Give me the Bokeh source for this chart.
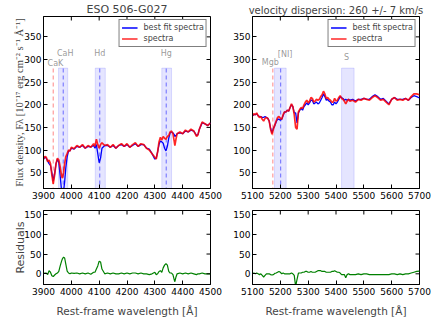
import numpy as np
from bokeh.plotting import figure
from bokeh.models import FixedTicker, Range1d
from bokeh.layouts import column, row
from bokeh.core.properties import value
from bokeh.embed import file_html
from bokeh.resources import INLINE

# ---------------- data: left window (3900-4500 A) ----------------
wave_l = [3900, 3905, 3910, 3915, 3920, 3925, 3930, 3935, 3940, 3945, 3950, 3955, 3960, 3965,
          3968, 3972, 3976, 3980, 3985, 3990, 3995, 4000, 4010, 4020, 4030, 4040, 4050, 4060,
          4070, 4080, 4085, 4090, 4095, 4100, 4105, 4110, 4120, 4130, 4140, 4150, 4160, 4170,
          4180, 4190, 4200, 4210, 4220, 4230, 4240, 4250, 4260, 4270, 4280, 4290, 4300, 4305,
          4310, 4315, 4320, 4325, 4330, 4335, 4340, 4345, 4350, 4355, 4360, 4365, 4370, 4372,
          4376, 4380, 4390, 4400, 4410, 4420, 4430, 4440, 4450, 4455, 4460, 4470, 4480, 4490, 4500]
spec_l = [80, 86, 84, 74, 78, 70, 45, 25, 45, 70, 82, 78, 62, 42,
          38, 50, 70, 85, 92, 100, 98, 106, 103, 110, 106, 112, 104, 110,
          106, 114, 108, 124, 112, 104, 112, 116, 110, 112, 106, 112, 104, 110,
          114, 108, 114, 106, 112, 116, 108, 114, 112, 104, 100, 92, 84, 80,
          96, 118, 128, 122, 130, 126, 124, 130, 132, 140, 142, 136, 118, 110,
          124, 136, 140, 136, 144, 140, 146, 142, 130, 134, 146, 162, 158, 154, 160]
fit_l = [80, 84, 82, 76, 70, 66, 50, 32, 48, 70, 80, 72, 42, 10,
         0, 8, 30, 60, 85, 98, 98, 104, 102, 108, 106, 110, 104, 108,
         107, 110, 104, 112, 92, 72, 82, 104, 110, 110, 106, 110, 104, 110,
         112, 108, 112, 106, 110, 114, 108, 112, 112, 104, 102, 92, 80, 82,
         96, 112, 120, 118, 115, 104, 98, 108, 126, 138, 140, 138, 134, 130,
         132, 136, 138, 136, 142, 140, 144, 142, 132, 134, 146, 160, 158, 154, 160]

# ---------------- data: right window (5100-5700 A) ----------------
wave_r = [5100, 5105, 5110, 5115, 5120, 5125, 5130, 5135, 5140, 5145, 5150, 5155, 5160, 5165,
          5170, 5175, 5180, 5185, 5190, 5195, 5200, 5205, 5210, 5215, 5220, 5225, 5230, 5235,
          5240, 5245, 5250, 5255, 5260, 5265, 5270, 5275, 5280, 5285, 5290, 5295, 5300, 5305,
          5310, 5315, 5320, 5325, 5330, 5335, 5340, 5345, 5350, 5355, 5360, 5365, 5370, 5375,
          5380, 5385, 5390, 5395, 5400, 5405, 5410, 5415, 5420, 5425, 5430, 5435, 5440, 5445,
          5450, 5460, 5470, 5480, 5490, 5500, 5510, 5520, 5530, 5540, 5550, 5560, 5570, 5580,
          5590, 5600, 5610, 5620, 5630, 5640, 5650, 5660, 5670, 5680, 5690, 5700]
spec_r = [176, 180, 178, 182, 176, 172, 174, 168, 164, 170, 172, 170, 164, 146,
          135, 146, 155, 164, 172, 174, 170, 168, 178, 184, 184, 188, 186, 194,
          202, 196, 178, 150, 146, 184, 190, 194, 192, 200, 206, 210, 204, 208,
          216, 214, 206, 208, 212, 210, 212, 218, 222, 230, 224, 214, 216, 212,
          210, 206, 206, 214, 208, 210, 216, 220, 214, 212, 208, 202, 208, 212,
          208, 210, 206, 212, 210, 214, 212, 210, 216, 220, 216, 210, 212, 206,
          200, 212, 216, 210, 212, 210, 214, 210, 218, 224, 224, 222]
fit_r = [176, 178, 178, 180, 176, 174, 174, 172, 172, 174, 172, 170, 164, 148,
         138, 148, 154, 162, 168, 168, 166, 168, 176, 184, 184, 188, 186, 194,
         200, 196, 182, 182, 160, 182, 188, 192, 188, 196, 200, 204, 200, 204,
         210, 210, 202, 204, 206, 202, 204, 210, 216, 224, 218, 210, 212, 208,
         206, 200, 200, 206, 202, 206, 212, 218, 216, 214, 210, 212, 210, 212,
         210, 212, 208, 212, 212, 214, 212, 212, 218, 222, 218, 212, 214, 208,
         202, 212, 216, 212, 212, 212, 214, 210, 216, 220, 218, 215]

res_l = (np.array(spec_l) - np.array(fit_l)).tolist()
res_r = (np.array(spec_r) - np.array(fit_r)).tolist()

# spectral features
band_l_left = [3954, 4086, 4325]
band_l_right = [3987, 4122, 4360]
band_l_line = [3971, 4102, 4341]
cak_line = [3935]
label_l_text = ["CaK", "CaH", "Hd", "Hg"]
label_l_x = [3943, 3978, 4102, 4341]
label_l_y = [291, 313, 313, 313]

band_r_left = [5179, 5420]
band_r_right = [5221, 5465]
band_r_line = [5201]
mgb_line = [5173]
label_r_text = ["Mgb", "[NI]", "S"]
label_r_x = [5164, 5217, 5438]
label_r_y = [293, 312, 305]

band_top = 281

# axis ticks
xticks_l = [3900, 4000, 4100, 4200, 4300, 4400, 4500]
xticks_r = [5100, 5200, 5300, 5400, 5500, 5600, 5700]
yticks_top = [50, 100, 150, 200, 250, 300, 350]
yticks_res = [0, 50, 100, 150]

FONT = "DejaVu Sans"


def style(p, xticks, yticks):
    p.xgrid.visible = False
    p.ygrid.visible = False
    p.outline_line_color = "black"
    p.outline_line_width = 1
    p.background_fill_color = "white"
    p.border_fill_color = "white"
    xa, ya = p.below[0], p.left[0]
    for ax, t in ((xa, xticks), (ya, yticks)):
        ax.ticker = FixedTicker(ticks=t)
        ax.major_tick_in = 4
        ax.major_tick_out = 0
        ax.minor_tick_in = 0
        ax.minor_tick_out = 0
        ax.major_tick_line_color = "black"
        ax.axis_line_color = "black"
        ax.major_label_text_font = FONT
        ax.major_label_text_font_size = "9px"
        ax.major_label_text_color = "black"
        ax.major_label_standoff = 2
    xa.major_label_standoff = 3
    # mirrored inward ticks on the top and right frame edges (clipped half-dashes)
    x1 = p.x_range.end
    y1 = p.y_range.end
    p.scatter(x=xticks, y=[y1] * len(xticks), marker="dash", size=8, angle=np.pi / 2,
              line_color="black", line_width=1)
    p.scatter(x=[x1] * len(yticks), y=yticks, marker="dash", size=8,
              line_color="black", line_width=1)
    return xa, ya


def top_panel(title, x0, x1, bl, br, title_size):
    p = figure(frame_width=167, frame_height=172, x_range=Range1d(x0, x1), y_range=Range1d(15, 395),
               output_backend="svg", toolbar_location=None, title=title,
               min_border_left=bl, min_border_right=br, min_border_top=15, min_border_bottom=16)
    p.title.text_font = FONT
    p.title.text_font_size = title_size
    p.title.text_font_style = "normal"
    p.title.align = "center"
    p.title.standoff = 1
    return p


def bottom_panel(x0, x1, bl, br):
    p = figure(frame_width=167, frame_height=74, x_range=Range1d(x0, x1), y_range=Range1d(-27, 160),
               output_backend="svg", toolbar_location=None,
               min_border_left=bl, min_border_right=br, min_border_top=6, min_border_bottom=35)
    return p


# ---- top left ----
p1 = top_panel("ESO 506-G027", 3900, 4500, 43, 20, "11px")
p1.quad(left=band_l_left, right=band_l_right, bottom=-100, top=band_top,
        fill_color="blue", fill_alpha=0.1, line_color="blue", line_alpha=0.12)
p1.segment(x0=band_l_line, x1=band_l_line, y0=-100, y1=band_top, line_color="blue",
           line_alpha=0.45, line_dash="4 3", line_width=1.2)
p1.segment(x0=cak_line, x1=cak_line, y0=-100, y1=band_top, line_color="red",
           line_alpha=0.4, line_dash="4 3", line_width=1.2)
p1.text(x=label_l_x, y=label_l_y, text=label_l_text, text_font=value(FONT),
        text_font_size=value("8px"), text_align="center", text_baseline="middle",
        text_color="gray", text_alpha=0.8)
p1.line(wave_l, fit_l, line_color="blue", line_width=1.3, legend_label="best fit spectra")
p1.line(wave_l, spec_l, line_color="red", line_width=1.7, line_alpha=0.85, legend_label="spectra")
xa1, ya1 = style(p1, xticks_l, yticks_top)
ya1.axis_label = "Flux density, F\u03bb [10\u207b\u00b9\u2077 erg cm\u207b\u00b2 s\u207b\u00b9 \u00c5\u207b\u00b9]"
ya1.axis_label_text_font = "Liberation Serif"
ya1.axis_label_text_font_size = "10.5px"
ya1.axis_label_text_font_style = "normal"
ya1.axis_label_standoff = -4

# ---- top right ----
p2 = top_panel("velocity dispersion: 260 +/- 7 km/s", 5100, 5700, 21, 13, "10px")
p2.quad(left=band_r_left, right=band_r_right, bottom=-100, top=band_top,
        fill_color="blue", fill_alpha=0.1, line_color="blue", line_alpha=0.12)
p2.segment(x0=band_r_line, x1=band_r_line, y0=-100, y1=band_top, line_color="blue",
           line_alpha=0.45, line_dash="4 3", line_width=1.2)
p2.segment(x0=mgb_line, x1=mgb_line, y0=-100, y1=band_top, line_color="red",
           line_alpha=0.4, line_dash="4 3", line_width=1.2)
p2.text(x=label_r_x, y=label_r_y, text=label_r_text, text_font=value(FONT),
        text_font_size=value("8px"), text_align="center", text_baseline="middle",
        text_color="gray", text_alpha=0.8)
p2.line(wave_r, fit_r, line_color="blue", line_width=1.3, legend_label="best fit spectra")
p2.line(wave_r, spec_r, line_color="red", line_width=1.7, line_alpha=0.85, legend_label="spectra")
style(p2, xticks_r, yticks_top)

for p in (p1, p2):
    lg = p.legend[0]
    lg.location = "top_right"
    lg.margin = 3
    lg.padding = 2
    lg.spacing = 0
    lg.glyph_width = 16
    lg.glyph_height = 11
    lg.label_height = 11
    lg.label_standoff = 6
    lg.label_text_font = FONT
    lg.label_text_font_size = "8px"
    lg.border_line_color = "black"
    lg.border_line_width = 1
    lg.background_fill_alpha = 1

# ---- bottom left ----
p3 = bottom_panel(3900, 4500, 43, 20)
p3.line(wave_l, res_l, line_color="green", line_width=1.2)
xa3, ya3 = style(p3, xticks_l, yticks_res)
ya3.axis_label = "Residuals"
xa3.axis_label = "Rest-frame wavelength [\u00c5]"

# ---- bottom right ----
p4 = bottom_panel(5100, 5700, 21, 13)
p4.line(wave_r, res_r, line_color="green", line_width=1.2)
xa4, ya4 = style(p4, xticks_r, yticks_res)
xa4.axis_label = "Rest-frame wavelength [\u00c5]"

for ax in (xa3, ya3, xa4):
    ax.axis_label_text_font = FONT
    ax.axis_label_text_font_style = "normal"
    ax.axis_label_text_font_size = "10.5px"
    ax.axis_label_standoff = 7
ya3.axis_label_text_font_size = "11px"
ya3.axis_label_standoff = -6

layout = column(row(p1, p2), row(p3, p4))
open("out.html", "w").write(file_html(layout, INLINE))
